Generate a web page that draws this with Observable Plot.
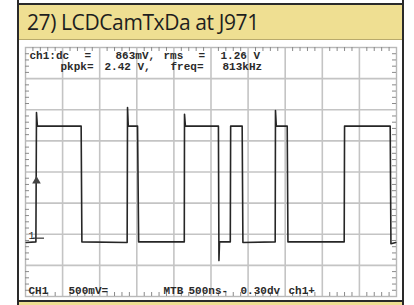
<!DOCTYPE html>
<html><head><meta charset="utf-8">
<script src="https://cdn.jsdelivr.net/npm/d3@7"></script>
<script src="https://cdn.jsdelivr.net/npm/@observablehq/plot@0.6"></script>
<style>
html,body{margin:0;padding:0;background:#fff;}
#page{position:relative;width:414px;height:305px;overflow:hidden;background:#fff;}
.blk{position:absolute;}
#title{position:absolute;left:19px;top:5px;width:383px;height:35px;background:#efdf92;border-bottom:1px solid #b9aa6c;
  font-family:"Open Sans",sans-serif;font-size:21px;line-height:35px;color:#1e1e1e;padding-left:8px;box-sizing:border-box;letter-spacing:-0.4px;}
#chart{position:absolute;left:0;top:41px;}
</style></head>
<body><div id="page">
<div class="blk" style="left:17px;top:3px;width:387px;height:2px;background:#2a2a2a"></div>
<div id="title">27) LCDCamTxDa at J971</div>
<div id="chart"></div>
<div class="blk" style="left:17px;top:300px;width:387px;height:2px;background:#2a2a2a"></div>
<div class="blk" style="left:19px;top:302px;width:383px;height:3px;background:#efdf92"></div>
<div class="blk" style="left:17px;top:0;width:2px;height:305px;background:#2a2a2a"></div>
<div class="blk" style="left:402px;top:0;width:2px;height:305px;background:#2a2a2a"></div>
</div>
<script>
// time in microseconds (500 ns/div, 10 divisions), voltage in volts (500 mV/div)
const timeDomain = [0, 5];
const voltDomain = [-0.937, 3.063];
const groundLevel = 0;
const triggerLevel = 0.92;
const triggerTime = 0.148;

const traceT = [0.01, 0.14, 0.148, 0.16, 0.75, 0.76, 1.37, 1.375, 1.385, 1.51, 1.525, 2.14, 2.143, 2.155, 2.60, 2.607, 2.615, 2.76, 2.765, 2.92, 2.93, 3.365, 3.369, 3.38, 3.527, 3.537, 4.295, 4.30, 4.915, 4.925, 4.99];
const traceV = [-0.07, -0.06, 2.02, 1.80, 1.80, -0.06, -0.07, 2.10, 1.80, 1.80, -0.06, -0.06, 1.99, 1.80, 1.80, -0.36, -0.06, -0.06, 1.80, 1.80, -0.07, -0.06, 2.05, 1.80, 1.80, -0.06, -0.06, 1.80, 1.80, -0.09, -0.07];

const readoutTop1 = ["ch1:dc", "=", "863mV,", "rms", "=", "1.26 V"];
const readoutTop2 = ["pkpk=", "2.42 V,", "freq=", "813kHz"];
const readoutBottom = ["CH1", "500mV=", "MTB", "500ns-", "0.30dv", "ch1+"];

const trace = traceT.map((t, i) => ({t, v: traceV[i]}));

const W = 414, H = 259, mL = 25, mR = 18, mT = 6, mB = 4, svgTop = 41;
const fw = W - mL - mR, fh = H - mT - mB;
const px2t = px => (px - mL) * (timeDomain[1] - timeDomain[0]) / fw;
const py2v = py => voltDomain[1] - (py - svgTop - mT) * (voltDomain[1] - voltDomain[0]) / fh;

const divT = 0.5, divV = 0.5;
const majorT = d3.range(1, 10).map(i => timeDomain[0] + i * divT);
const majorV = d3.range(1, 8).map(i => voltDomain[0] + i * divV);
const minorT = d3.range(1, 50).filter(i => i % 5).map(i => timeDomain[0] + i * divT / 5);
const minorV = d3.range(1, 40).filter(i => i % 5).map(i => voltDomain[0] + i * divV / 5);
const tickLen = 4;

const mono = "Liberation Mono, monospace";
const txt = (parts, xsPx, yPx) => Plot.text(parts, {
  x: (d, i) => px2t(xsPx[i]), y: () => py2v(yPx), text: d => d,
  textAnchor: "start", fontSize: 11, fontWeight: "bold", fontFamily: mono, fill: "#2a2a2a", lineAnchor: "middle"
});

const plot = Plot.plot({
  width: W, height: H, marginLeft: mL, marginRight: mR, marginTop: mT, marginBottom: mB,
  x: {domain: timeDomain, axis: null},
  y: {domain: voltDomain, axis: null},
  style: {background: "transparent", fontFamily: mono},
  marks: [
    Plot.ruleX(majorT, {stroke: "#c4c4c4", strokeWidth: 1.6}),
    Plot.ruleY(majorV, {stroke: "#c4c4c4", strokeWidth: 1.6}),
    Plot.frame({stroke: "#b8b8b8", strokeWidth: 1.4}),
    Plot.ruleX(minorT, {insetBottom: fh - tickLen, stroke: "#8a8a8a", strokeWidth: 1}),
    Plot.ruleX(minorT, {insetTop: fh - tickLen, stroke: "#8a8a8a", strokeWidth: 1}),
    Plot.ruleY(minorV, {insetRight: fw - tickLen, stroke: "#8a8a8a", strokeWidth: 1}),
    Plot.ruleY(minorV, {insetLeft: fw - tickLen, stroke: "#8a8a8a", strokeWidth: 1}),
    Plot.line(trace, {x: "t", y: "v", stroke: "#262626", strokeWidth: 1.6, curve: "linear"}),
    Plot.ruleY([groundLevel], {x1: px2t(33), x2: px2t(44), stroke: "#333", strokeWidth: 1.2}),
    Plot.text(["1"], {x: () => px2t(31), y: () => groundLevel, text: d => d, fontSize: 10, fontFamily: mono, fill: "#222", dy: -2}),
    Plot.dot([triggerLevel], {x: () => triggerTime, y: d => d, symbol: "triangle", r: 3.2, fill: "#444", stroke: "none"}),
    txt(readoutTop1, [29, 84, 115, 163, 198, 220], 54.5),
    txt(readoutTop2, [60, 104, 170, 222], 65.5),
    txt(readoutBottom, [28, 68, 163, 188, 240, 288], 290)
  ]
});
document.getElementById("chart").appendChild(plot);
</script>
</body></html>
